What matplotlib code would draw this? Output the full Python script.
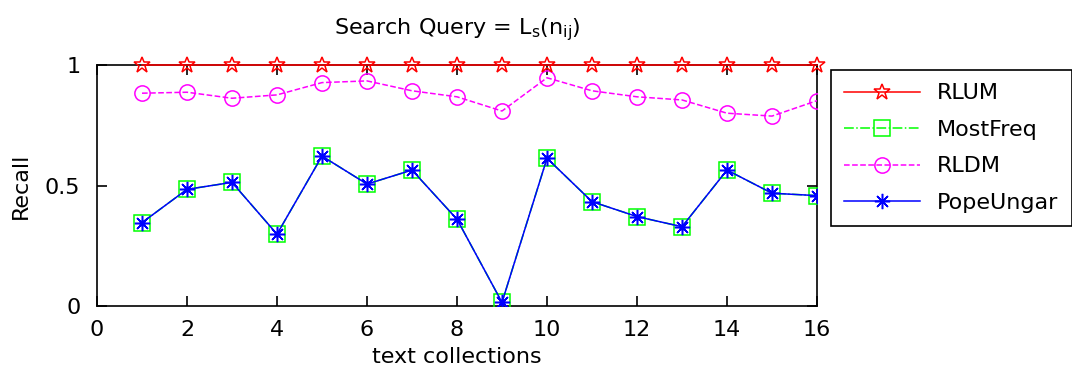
import matplotlib
matplotlib.use("Agg")
import matplotlib.pyplot as plt

plt.rcParams['font.family'] = ['DejaVu Sans']

collections = list(range(1, 17))
rlum = [1.0] * 16
mostfreq = [0.346, 0.484, 0.513, 0.298, 0.622, 0.506, 0.564, 0.360,
            0.015, 0.613, 0.433, 0.371, 0.329, 0.564, 0.468, 0.458]
rldm = [0.883, 0.887, 0.862, 0.876, 0.927, 0.934, 0.893, 0.868,
        0.809, 0.947, 0.893, 0.868, 0.855, 0.800, 0.788, 0.852]
popeungar = list(mostfreq)
xticks = [0, 2, 4, 6, 8, 10, 12, 14, 16]
yticks = [0, 0.5, 1]
yticklabels = ["0", "0.5", "1"]

fig = plt.figure(figsize=(10.72, 3.79), dpi=100)
ax = fig.add_axes([97/1072, 1-306/379, 720/1072, 241/379])

ax.plot(collections, rlum, color='red', lw=1.1, marker='*', ms=12,
        mfc='none', mec='red', mew=1.1, label='RLUM', zorder=5, clip_on=False)
ax.plot(collections, mostfreq, color='#00ff00', lw=1.1, ls='-.', marker='s', ms=11,
        mfc='none', mec='#00ff00', mew=1.1, label='MostFreq', zorder=3)
ax.plot(collections, rldm, color='magenta', lw=1.1, ls='--', marker='o', ms=11,
        mfc='none', mec='magenta', mew=1.1, label='RLDM', zorder=3)
ax.plot(collections, popeungar, color='blue', lw=1.1, marker=(8, 2, 0), ms=11,
        mec='blue', mew=1.1, label='PopeUngar', zorder=4)
ax.plot(collections, popeungar, ls='none', marker='o', ms=3.5, color='blue', zorder=4)

ax.set_xlim(0, 16)
ax.set_ylim(0, 1)
ax.set_xticks(xticks)
ax.set_yticks(yticks)
ax.set_yticklabels(yticklabels)
ax.tick_params(direction='in', top=True, right=True, length=7, width=1.2,
               labelsize=16)
ax.tick_params(axis='x', pad=10)
ax.tick_params(axis='y', pad=12)
for s in ax.spines.values():
    s.set_linewidth(1.2)
ax.set_xlabel('text collections', fontsize=16, labelpad=5)
ax.set_ylabel('Recall', fontsize=16, labelpad=10)
ax.set_title(r'Search Query = L$_\mathregular{s}$(n$_\mathregular{ij}$)', fontsize=16, pad=22)

leg = ax.legend(loc='upper left', bbox_to_anchor=(1.019, 0.979), borderaxespad=0,
                fancybox=False, edgecolor='black', fontsize=16, handlelength=3.4,
                framealpha=1, borderpad=0.6, labelspacing=0.74)
leg.get_frame().set_linewidth(1.2)

fig.savefig('out.png', dpi=100)
